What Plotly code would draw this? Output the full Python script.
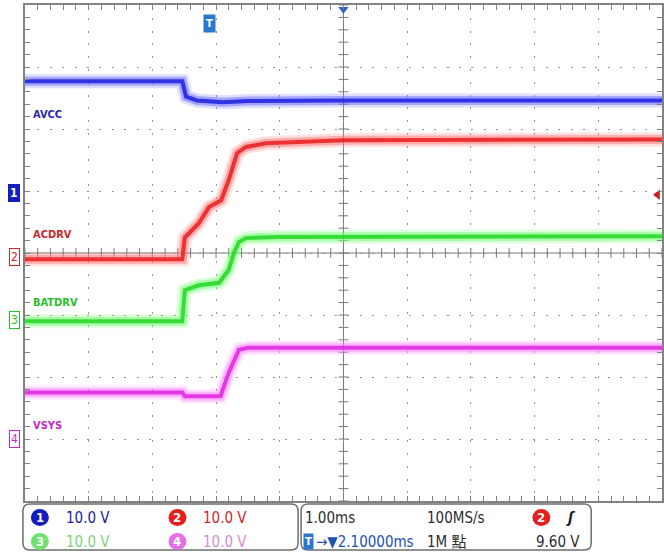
import numpy as np
import plotly.graph_objects as go

# ---------------- data (time in ms relative to screen centre, values in divisions) -------------
t_avcc = [-5.0, -2.53, -2.47, -2.30, -1.90, -1.50, 0.0, 5.0]
v_avcc = [2.77, 2.77, 2.52, 2.46, 2.43, 2.45, 2.46, 2.46]

t_acdrv = [-5.0, -2.53, -2.49, -2.27, -2.11, -1.92, -1.80, -1.67, -1.53, -1.22, 0.0, 5.0]
v_acdrv = [-0.10, -0.10, 0.25, 0.48, 0.74, 0.85, 1.18, 1.61, 1.71, 1.77, 1.82, 1.83]

t_batdrv = [-5.0, -2.53, -2.49, -2.27, -1.95, -1.80, -1.72, -1.64, -1.53, -1.0, 5.0]
v_batdrv = [-1.10, -1.10, -0.60, -0.52, -0.48, -0.27, 0.0, 0.18, 0.24, 0.26, 0.27]

t_vsys = [-5.0, -2.53, -2.49, -1.93, -1.80, -1.64, -1.50, 5.0]
v_vsys = [-2.25, -2.25, -2.31, -2.31, -1.93, -1.56, -1.53, -1.53]

channel_names = ["AVCC", "ACDRV", "BATDRV", "VSYS"]
channel_ids = ["1", "2", "3", "4"]
channel_marker_levels = [0.97, -0.06, -1.08, -3.0]
channel_label_levels = [2.24, 0.30, -0.80, -2.78]
channel_scales = ["10.0 V", "10.0 V", "10.0 V", "10.0 V"]
timebase = "1.00ms"
sample_rate = "100MS/s"
trigger_delay = "2.10000ms"
record_len = "1M 點"
trigger_level = "9.60 V"
trigger_time = -2.1
trigger_level_div = 0.94

series = [(t_avcc, v_avcc), (t_acdrv, v_acdrv), (t_batdrv, v_batdrv), (t_vsys, v_vsys)]
core_cols = ["rgb(30,30,225)", "rgb(232,28,28)", "rgb(35,215,35)", "rgb(225,35,225)"]
halo_cols = ["rgb(110,110,255)", "rgb(255,120,120)", "rgb(120,255,120)", "rgb(255,130,255)"]
label_cols = ["rgb(40,40,170)", "rgb(200,40,40)", "rgb(40,190,40)", "rgb(200,40,200)"]

W, H = 664, 556
def PX(px):
    return px / W
def PY(py):
    return 1 - py / H

fig = go.Figure()

# crosshair ticks
minor_x = np.round(np.arange(-5, 5.001, 0.2), 3)
minor_y = np.round(np.arange(-4, 4.001, 0.2), 3)
fig.add_trace(go.Scatter(x=minor_x, y=[0] * len(minor_x), mode="markers",
                         marker=dict(symbol="line-ns", size=7, line=dict(color="rgb(120,120,120)", width=1)),
                         hoverinfo="skip", showlegend=False))
fig.add_trace(go.Scatter(x=[0] * len(minor_y), y=minor_y, mode="markers",
                         marker=dict(symbol="line-ew", size=7, line=dict(color="rgb(120,120,120)", width=1)),
                         hoverinfo="skip", showlegend=False))

# waveforms (layered for the fuzzy phosphor look)
for (t, v), cc, hc in zip(series, core_cols, halo_cols):
    fig.add_trace(go.Scatter(x=t, y=v, mode="lines", line=dict(color=hc, width=14), opacity=0.22,
                             hoverinfo="skip", showlegend=False))
    fig.add_trace(go.Scatter(x=t, y=v, mode="lines", line=dict(color=hc, width=9), opacity=0.5,
                             hoverinfo="skip", showlegend=False))
    fig.add_trace(go.Scatter(x=t, y=v, mode="lines", line=dict(color=cc, width=4), opacity=0.85,
                             hoverinfo="skip", showlegend=False))

# top centre marker & trigger level marker
fig.add_trace(go.Scatter(x=[0], y=[3.93], mode="markers", cliponaxis=False,
                         marker=dict(symbol="triangle-down", size=9, color="rgb(40,100,200)"),
                         hoverinfo="skip", showlegend=False))
fig.add_trace(go.Scatter(x=[4.93], y=[trigger_level_div], mode="markers", cliponaxis=False,
                         marker=dict(symbol="triangle-left", size=9, color="rgb(200,30,30)"),
                         hoverinfo="skip", showlegend=False))
# channel marker points
fig.add_trace(go.Scatter(x=[-5.05] * 4, y=channel_marker_levels, mode="markers", cliponaxis=False,
                         marker=dict(symbol=["triangle-right", "triangle-right-open", "triangle-right-open",
                                             "triangle-right-open"],
                                     size=8, color=label_cols, line=dict(width=1, color=label_cols)),
                         hoverinfo="skip", showlegend=False))

annotations = []
shapes = []
# crosshair lines
shapes.append(dict(type="line", xref="x", yref="y", x0=0, x1=0, y0=-4, y1=4,
                   line=dict(color="rgb(120,120,120)", width=1), layer="below"))
shapes.append(dict(type="line", xref="x", yref="y", x0=-5, x1=5, y0=0, y1=0,
                   line=dict(color="rgb(120,120,120)", width=1), layer="below"))

# channel names
for name, lv, col in zip(channel_names, channel_label_levels, label_cols):
    annotations.append(dict(x=-4.9, y=lv, xref="x", yref="y", text="<b>" + name + "</b>", showarrow=False,
                            xanchor="left", yanchor="middle",
                            font=dict(family="DejaVu Sans Condensed", size=11, color=col)))

# channel markers on the left
for cid, lv, col, i in zip(channel_ids, channel_marker_levels, label_cols, range(4)):
    if i == 0:
        annotations.append(dict(x=PX(20), y=lv, xref="paper", yref="y", text="<b>" + cid + "</b>",
                                showarrow=False, xanchor="right", yanchor="middle",
                                bgcolor="rgb(20,30,190)", bordercolor="rgb(20,30,190)", borderwidth=1,
                                borderpad=1, font=dict(family="DejaVu Sans Condensed", size=12, color="white")))
    else:
        annotations.append(dict(x=PX(20), y=lv, xref="paper", yref="y", text=cid,
                                showarrow=False, xanchor="right", yanchor="middle",
                                bgcolor="white", bordercolor=col, borderwidth=1,
                                borderpad=1, font=dict(family="DejaVu Sans Condensed", size=12, color=col)))

# trigger T marker
annotations.append(dict(x=trigger_time, y=3.7, xref="x", yref="y", text="<b>T</b>", showarrow=False,
                        xanchor="center", yanchor="middle",
                        bgcolor="rgb(40,120,210)", borderpad=2,
                        font=dict(family="DejaVu Sans Condensed", size=11, color="white")))

# bottom info boxes (rounded)
def rounded(x0, y0, x1, y1, r):
    return (f"M {PX(x0 + r)} {PY(y0)} L {PX(x1 - r)} {PY(y0)} Q {PX(x1)} {PY(y0)} {PX(x1)} {PY(y0 + r)} "
            f"L {PX(x1)} {PY(y1 - r)} Q {PX(x1)} {PY(y1)} {PX(x1 - r)} {PY(y1)} "
            f"L {PX(x0 + r)} {PY(y1)} Q {PX(x0)} {PY(y1)} {PX(x0)} {PY(y1 - r)} "
            f"L {PX(x0)} {PY(y0 + r)} Q {PX(x0)} {PY(y0)} {PX(x0 + r)} {PY(y0)} Z")

for (bx0, bx1) in [(23, 299), (302, 593)]:
    shapes.append(dict(type="path", xref="paper", yref="paper", path=rounded(bx0, 504, bx1, 550, 7),
                       line=dict(color="rgb(110,110,110)", width=1.5), fillcolor="white"))

circ_cols = ["rgb(20,30,190)", "rgb(230,30,30)", "rgb(110,225,110)", "rgb(232,110,232)"]
scale_cols = ["rgb(30,35,150)", "rgb(205,40,50)", "rgb(125,210,125)", "rgb(210,140,215)"]
ROW1, ROW2 = 517.5, 541.5
pos = [(40, ROW1), (178, ROW1), (40, ROW2), (178, ROW2)]
FONT = "DejaVu Sans Condensed, Noto Sans CJK TC"

def circle(cx, cy, col, txt, rx=9, ry=8.5):
    shapes.append(dict(type="circle", xref="paper", yref="paper", x0=PX(cx - rx), x1=PX(cx + rx),
                       y0=PY(cy + ry), y1=PY(cy - ry), fillcolor=col, line=dict(color=col, width=0)))
    annotations.append(dict(x=PX(cx), y=PY(cy), xref="paper", yref="paper", text="<b>" + txt + "</b>",
                            showarrow=False, xanchor="center", yanchor="middle",
                            font=dict(family=FONT, size=13, color="white")))

def label(x, y, txt, col, anchor="left", size=15):
    annotations.append(dict(x=PX(x), y=PY(y), xref="paper", yref="paper", text=txt, showarrow=False,
                            xanchor=anchor, yanchor="middle", font=dict(family=FONT, size=size, color=col)))

for cid, (cx, cy), cc, sc, s in zip(channel_ids, pos, circ_cols, scale_cols, channel_scales):
    circle(cx, cy, cc, cid)
    label(cx + 24, cy, s, sc)

label(304, ROW1, timebase, "rgb(45,45,45)")
label(426, ROW1, sample_rate, "rgb(45,45,45)")
circle(543, ROW1, "rgb(230,30,30)", "2")
label(566, ROW1, "<b><i>ʃ</i></b>", "rgb(30,30,30)")
annotations.append(dict(x=PX(309), y=PY(ROW2), xref="paper", yref="paper", text="<b>T</b>", showarrow=False,
                        xanchor="center", yanchor="middle",
                        bgcolor="rgb(40,120,210)", borderpad=1, font=dict(family=FONT, size=11, color="white")))
label(315, ROW2, "→▼" + trigger_delay, "rgb(30,80,180)")
label(426, ROW2, record_len, "rgb(45,45,45)")
label(584, ROW2, trigger_level, "rgb(45,45,45)", anchor="right")

fig.update_layout(
    width=W, height=H, margin=dict(l=0, r=0, t=0, b=0),
    paper_bgcolor="white", plot_bgcolor="white",
    shapes=shapes, annotations=annotations, showlegend=False,
    xaxis=dict(domain=[PX(25), 1.0], range=[-5, 5], dtick=1, tick0=0, showticklabels=False,
               showgrid=True, gridcolor="rgb(150,150,150)", griddash="2px,10.8px", gridwidth=1,
               zeroline=False, showline=True, linecolor="rgb(130,130,130)", linewidth=1.5, mirror="ticks",
               ticks="inside", ticklen=5, tickcolor="rgb(130,130,130)",
               minor=dict(dtick=0.2, ticks="inside", ticklen=5, tickcolor="rgb(130,130,130)", showgrid=False),
               fixedrange=True),
    yaxis=dict(domain=[PY(501), PY(5)], range=[-4, 4], dtick=1, tick0=0, showticklabels=False,
               showgrid=True, gridcolor="rgb(150,150,150)", griddash="2px,10.4px", gridwidth=1,
               zeroline=False, showline=True, linecolor="rgb(130,130,130)", linewidth=1.5, mirror="ticks",
               ticks="inside", ticklen=5, tickcolor="rgb(130,130,130)",
               minor=dict(dtick=0.2, ticks="inside", ticklen=5, tickcolor="rgb(130,130,130)", showgrid=False),
               fixedrange=True),
)

fig.write_html("out.html", config={"displayModeBar": False},
               post_script="document.body.style.margin='0';document.body.style.padding='0';")
